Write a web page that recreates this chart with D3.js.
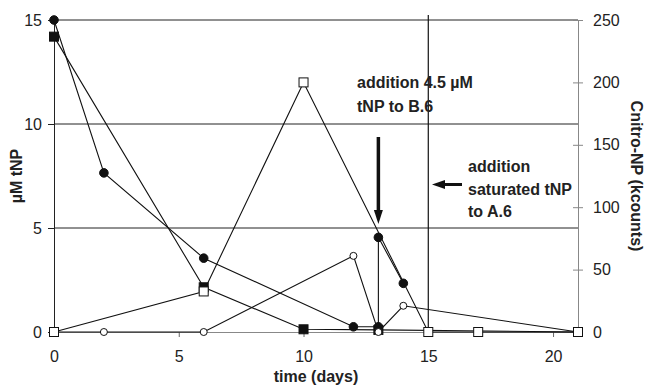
<!DOCTYPE html>
<html>
<head>
<meta charset="utf-8">
<script src="https://cdn.jsdelivr.net/npm/d3@7"></script>
<style>
  body { margin: 0; background: #fff; }
  svg { display: block; font-family: 'Liberation Sans', Arial, sans-serif; }
  .tick-label { font-size: 16px; fill: #222; }
  .title { font-size: 16px; font-weight: bold; fill: #222; }
  .note { font-size: 16px; font-weight: bold; fill: #222; }
</style>
</head>
<body>
<svg id="chart" width="646" height="389"></svg>
<script>
// tNP in µM (left axis)
const filledCircleX = [0, 2, 6, 12, 13, 13, 14];
const filledCircleY = [15, 7.65, 3.55, 0.25, 0.25, 4.55, 2.34];
const filledSquareX = [0, 6, 10, 13, 21];
const filledSquareY = [14.2, 2.15, 0.13, 0.1, 0];

// Cnitro-NP in kcounts (right axis)
const openSquareX = [0, 6, 10, 15, 17, 21];
const openSquareY = [0, 32.5, 200, 0, 0, 0];
const openCircleX = [0, 2, 6, 12, 13, 14, 21];
const openCircleY = [0, 0, 0, 61, 0, 21, 0];

const xTicks = [0, 5, 10, 15, 20];
const leftTicks = [0, 5, 10, 15];
const rightTicks = [0, 50, 100, 150, 200, 250];

const svg = d3.select('#chart');
const plotLeft = 54, plotRight = 578, plotTop = 20, plotBottom = 332;

const x = d3.scaleLinear().domain([0, 21]).range([plotLeft, plotRight]);
const yL = d3.scaleLinear().domain([0, 15]).range([plotBottom, plotTop]);
const yR = d3.scaleLinear().domain([0, 250]).range([plotBottom, plotTop]);

// horizontal gridlines
svg.append('g').selectAll('line')
    .data(leftTicks.filter(d => d > 0))
    .enter().append('line')
    .attr('x1', plotLeft).attr('x2', plotRight)
    .attr('y1', d => yL(d)).attr('y2', d => yL(d))
    .attr('stroke', '#222').attr('stroke-width', 1);

// vertical marker line at day 15
svg.append('line')
    .attr('x1', x(15)).attr('x2', x(15))
    .attr('y1', plotTop - 5).attr('y2', plotBottom)
    .attr('stroke', '#111').attr('stroke-width', 1.2);

// left axis
const axL = svg.append('g').attr('transform', `translate(${plotLeft},0)`)
    .call(d3.axisLeft(yL).tickValues(leftTicks).tickSize(6).tickPadding(6));
axL.select('.domain').attr('stroke', '#222');
axL.selectAll('.tick line').attr('stroke', '#222');
axL.selectAll('text').attr('class', 'tick-label').attr('font-size', null).attr('font-family', null);

// right axis
const axR = svg.append('g').attr('transform', `translate(${plotRight},0)`)
    .call(d3.axisRight(yR).tickValues(rightTicks).tickSize(5).tickPadding(10));
axR.select('.domain').attr('stroke', '#888');
axR.selectAll('.tick line').attr('stroke', '#888').attr('x1', -5);
axR.selectAll('text').attr('class', 'tick-label').attr('font-size', null).attr('font-family', null);

// bottom axis
const axB = svg.append('g').attr('transform', `translate(0,${plotBottom})`)
    .call(d3.axisBottom(x).tickValues(xTicks).tickSize(5).tickPadding(14));
axB.select('.domain').attr('stroke', '#888');
axB.selectAll('.tick line').attr('stroke', '#666');
axB.selectAll('text').attr('class', 'tick-label').attr('font-size', null).attr('font-family', null);

// axis titles
svg.append('text').attr('class', 'title')
    .attr('x', 316).attr('y', 382).attr('text-anchor', 'middle')
    .text('time (days)');
svg.append('text').attr('class', 'title')
    .attr('transform', `translate(22,${(plotTop + plotBottom) / 2}) rotate(-90)`)
    .attr('text-anchor', 'middle')
    .text('µM tNP');
svg.append('text').attr('class', 'title')
    .attr('transform', `translate(631,${(plotTop + plotBottom) / 2}) rotate(90)`)
    .attr('text-anchor', 'middle')
    .text('Cnitro-NP (kcounts)');

// series
const series = [
    { xs: filledSquareX, ys: filledSquareY, y: yL, shape: 'square', fill: '#111' },
    { xs: filledCircleX, ys: filledCircleY, y: yL, shape: 'circle', fill: '#111' },
    { xs: openCircleX, ys: openCircleY, y: yR, shape: 'circle', fill: '#fff', r: 3.5 },
    { xs: openSquareX, ys: openSquareY, y: yR, shape: 'square', fill: '#fff' }
];

const line = d3.line();
series.forEach(s => {
    const pts = s.xs.map((d, i) => [x(d), s.y(s.ys[i])]);
    svg.append('path')
        .attr('d', line(pts))
        .attr('fill', 'none')
        .attr('stroke', '#111')
        .attr('stroke-width', 1.1);
});

series.forEach(s => {
    const pts = s.xs.map((d, i) => [x(d), s.y(s.ys[i])]);
    const g = svg.append('g');
    if (s.shape === 'circle') {
        g.selectAll('circle').data(pts).enter().append('circle')
            .attr('cx', d => d[0]).attr('cy', d => d[1])
            .attr('r', s.r || 4.3)
            .attr('fill', s.fill).attr('stroke', '#111').attr('stroke-width', 1);
    } else {
        g.selectAll('rect').data(pts).enter().append('rect')
            .attr('x', d => d[0] - 4.5).attr('y', d => d[1] - 4.5)
            .attr('width', 9).attr('height', 9)
            .attr('fill', s.fill).attr('stroke', '#111').attr('stroke-width', 1);
    }
});

// annotations
const arrowX = x(13);
svg.append('line')
    .attr('x1', arrowX).attr('x2', arrowX)
    .attr('y1', 137).attr('y2', 212)
    .attr('stroke', '#111').attr('stroke-width', 3.5);
svg.append('path')
    .attr('d', `M${arrowX - 4.5},210 L${arrowX + 4.5},210 L${arrowX},224 Z`)
    .attr('fill', '#111');
svg.append('text').attr('class', 'note')
    .attr('x', 357).attr('y', 88).text('addition 4.5 µM');
svg.append('text').attr('class', 'note')
    .attr('x', 357).attr('y', 112).text('tNP to B.6');

svg.append('line')
    .attr('x1', 443).attr('x2', 462)
    .attr('y1', 184.5).attr('y2', 184.5)
    .attr('stroke', '#111').attr('stroke-width', 3);
svg.append('path')
    .attr('d', 'M445,180 L445,189 L432,184.5 Z')
    .attr('fill', '#111');
svg.append('text').attr('class', 'note')
    .attr('x', 468).attr('y', 172).text('addition');
svg.append('text').attr('class', 'note')
    .attr('x', 468).attr('y', 195).text('saturated tNP');
svg.append('text').attr('class', 'note')
    .attr('x', 468).attr('y', 217).text('to A.6');
</script>
</body>
</html>
